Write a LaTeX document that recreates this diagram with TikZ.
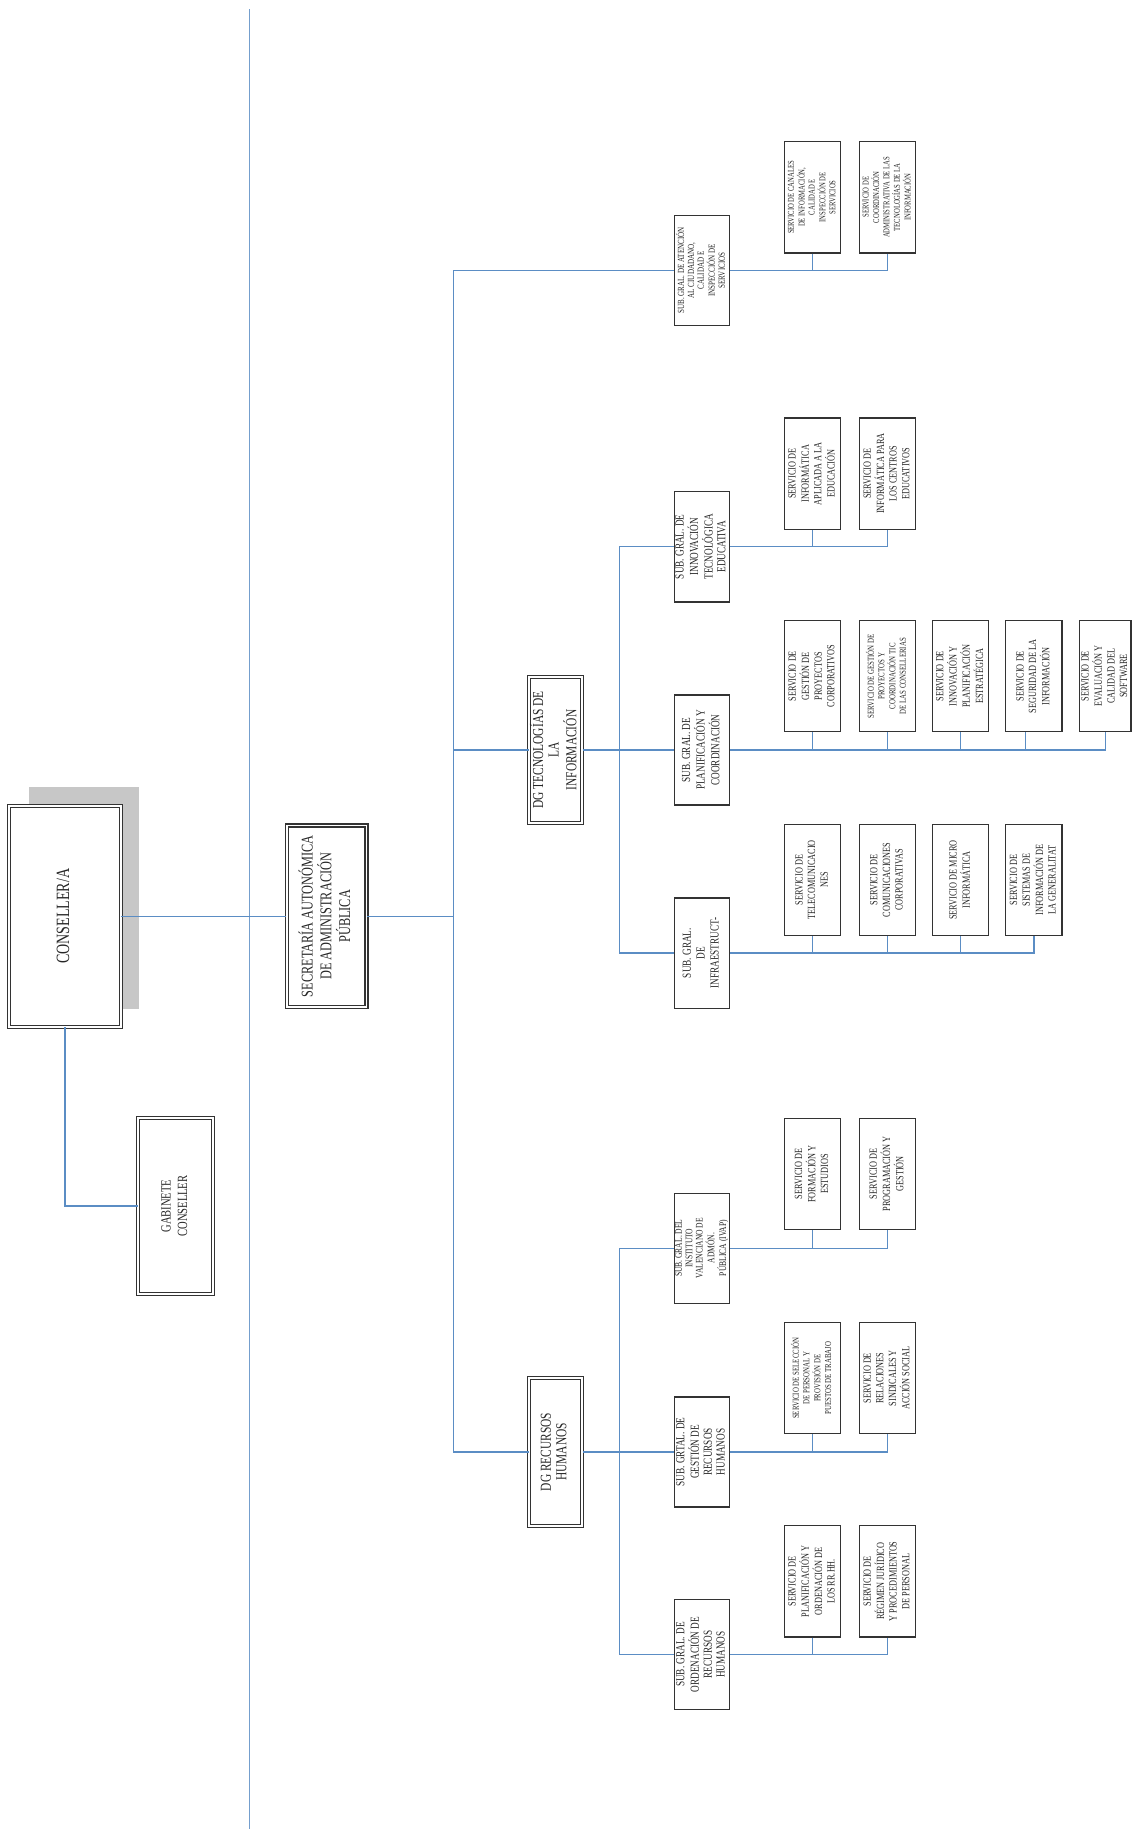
\documentclass[tikz,border=0pt]{standalone}
\usepackage{fontspec}
\setmainfont{Liberation Serif}[FakeStretch=0.75]
\usepackage{graphicx}
\definecolor{ln}{RGB}{91,141,196}
\newcommand{\vt}[1]{\rotatebox{90}{\begin{tabular}{@{}c@{}}#1\end{tabular}}}
\tikzset{
 dbox/.style={draw=black!80, double=white, double distance=1.6pt, line width=0.95pt, fill=white, inner sep=0pt, text=black!85},
 sbox/.style={draw=black!80, line width=1.1pt, fill=white, inner sep=0pt, text=black!85},
 svc/.style={sbox, minimum width=48, minimum height=95, font=\fontsize{9.4}{10.8}\selectfont},
 svctiny/.style={svc, font=\fontsize{7.6}{8.6}\selectfont},
 sgs/.style={sbox, minimum width=47, minimum height=94, font=\fontsize{10.5}{11}\selectfont},
 conn/.style={draw=ln, line width=1.1pt},
 mainln/.style={draw=ln!85, line width=1pt},
}
\begin{document}
\begin{tikzpicture}[x=1pt,y=-1pt]
\useasboundingbox[fill=white] (0,0) rectangle (966,1568);

% main vertical line
\coordinate (vtop) at (213,8);
\coordinate (vbot) at (213,1562);
\draw[mainln] (vtop) -- (vbot);

% top level
\node[fill=black!22, minimum width=94, minimum height=190, inner sep=0pt] (shadow) at (72,767) {};
\node[dbox, minimum width=95, minimum height=189, font=\fontsize{16}{18}\selectfont] (cons) at (55.5,782.5) {\vt{CONSELLER/A}};
\node[dbox, minimum width=64, minimum height=150, font=\fontsize{12}{14}\selectfont] (gab) at (150,1030) {\vt{GABINETE\\CONSELLER}};
\node[dbox, minimum width=68, minimum height=155, font=\fontsize{14}{13.5}\selectfont] (sec) at (279,782.5) {\vt{SECRETARÍA AUTONÓMICA\\DE ADMINISTRACIÓN\\PÚBLICA}};

% DGs
\node[dbox, minimum width=45, minimum height=125, font=\fontsize{13}{13.2}\selectfont] (dgti) at (474.5,640.5) {\vt{DG TECNOLOGÍAS DE\\LA\\INFORMACIÓN}};
\node[dbox, minimum width=45, minimum height=126, font=\fontsize{13}{13.2}\selectfont] (dgrh) at (474.5,1240) {\vt{DG RECURSOS\\HUMANOS}};

% sub generales
\node[sgs, font=\fontsize{8}{8.5}\selectfont] (sgat) at (599.5,231) {\vt{SUB. GRAL. DE ATENCIÓN\\AL CIUDADANO,\\CALIDAD E\\INSPECCIÓN DE\\SERVICIOS}};
\node[sgs] (sgin) at (599.5,467) {\vt{SUB. GRAL. DE\\INNOVACIÓN\\TECNOLÓGICA\\EDUCATIVA}};
\node[sgs, font=\fontsize{10.5}{11.8}\selectfont] (sgpl) at (599.5,640.5) {\vt{SUB. GRAL. DE\\PLANIFICACIÓN Y\\COORDINACIÓN}};
\node[sgs, font=\fontsize{10.5}{11.8}\selectfont] (sgif) at (599.5,814) {\vt{SUB. GRAL.\\DE\\INFRAESTRUCT-}};
\node[sgs, font=\fontsize{8.6}{8.8}\selectfont] (sgiv) at (599.5,1066) {\vt{SUB. GRAL. DEL\\INSTITUTO\\VALENCIANO DE\\ADMÓN.\\PÚBLICA (IVAP)}};
\node[sgs] (sgge) at (599.5,1240) {\vt{SUB. GRTAL. DE\\GESTIÓN DE\\RECURSOS\\HUMANOS}};
\node[sgs] (sgor) at (599.5,1413) {\vt{SUB. GRAL. DE\\ORDENACIÓN DE\\RECURSOS\\HUMANOS}};

% servicios
\node[svctiny] (at1) at (694,168.5) {\vt{SERVICIO DE CANALES\\DE INFORMACIÓN,\\CALIDAD E\\INSPECCIÓN DE\\SERVICIOS}};
\node[svctiny] (at2) at (758,168.5) {\vt{SERVICIO DE\\COORDINACIÓN\\ADMINISTRATIVA DE LAS\\TECNOLOGÍAS DE LA\\INFORMACIÓN}};

\node[svc] (in1) at (694,404.5) {\vt{SERVICIO DE\\INFORMÁTICA\\APLICADA A LA\\EDUCACIÓN}};
\node[svc] (in2) at (758,404.5) {\vt{SERVICIO DE\\INFORMÁTICA PARA\\LOS CENTROS\\EDUCATIVOS}};

\node[svc] (pl1) at (694,577.5) {\vt{SERVICIO DE\\GESTIÓN DE\\PROYECTOS\\CORPORATIVOS}};
\node[svc, font=\fontsize{7.8}{9}\selectfont] (pl2) at (758,577.5) {\vt{SERVICIO DE GESTIÓN DE\\PROYECTOS Y\\COORDINACIÓN TIC\\DE LAS CONSELLERIAS}};
\node[svc] (pl3) at (820.5,577.5) {\vt{SERVICIO DE\\INNOVACIÓN Y\\PLANIFICACIÓN\\ESTRATÉGICA}};
\node[svc] (pl4) at (883,577.5) {\vt{SERVICIO DE\\SEGURIDAD DE LA\\INFORMACIÓN}};
\node[svc, minimum width=43] (pl5) at (944,577.5) {\vt{SERVICIO DE\\EVALUACIÓN Y\\CALIDAD DEL\\SOFTWARE}};

\node[svc] (if1) at (694,751.5) {\vt{SERVICIO DE\\TELECOMUNICACIO\\NES}};
\node[svc] (if2) at (758,751.5) {\vt{SERVICIO DE\\COMUNICACIONES\\CORPORATIVAS}};
\node[svc] (if3) at (820.5,751.5) {\vt{SERVICIO DE MICRO\\INFORMÁTICA}};
\node[svc] (if4) at (883,751.5) {\vt{SERVICIO DE\\SISTEMAS DE\\INFORMACIÓN DE\\LA GENERALITAT}};

\node[svc] (iv1) at (694,1002.5) {\vt{SERVICIO DE\\FORMACIÓN Y\\ESTUDIOS}};
\node[svc] (iv2) at (758,1002.5) {\vt{SERVICIO DE\\PROGRAMACIÓN Y\\GESTIÓN}};

\node[svc, font=\fontsize{7.8}{9}\selectfont] (ge1) at (694,1177) {\vt{SERVICIO DE SELECCIÓN\\DE PERSONAL Y\\PROVISIÓN DE\\PUESTOS DE TRABAJO}};
\node[svc] (ge2) at (758,1177) {\vt{SERVICIO DE\\RELACIONES\\SINDICALES Y\\ACCIÓN SOCIAL}};

\node[svc] (or1) at (694,1350.5) {\vt{SERVICIO DE\\PLANIFICACIÓN Y\\ORDENACIÓN DE\\LOS RR.HH.}};
\node[svc] (or2) at (758,1350.5) {\vt{SERVICIO DE\\RÉGIMEN JURÍDICO\\Y PROCEDIMIENTOS\\DE PERSONAL}};

% connectors
\coordinate (bus) at (387,0);
\coordinate (tbus) at (529,0);
\draw[conn] (cons.east) -- (sec.west);
\draw[conn] (cons.south) |- (gab.west);
\draw[conn] (sec.east) -- (sec.east -| bus);
\draw[conn] (sgat.west) -| (dgrh.west -| bus) -- (dgrh.west);
\draw[conn] (dgti.west -| bus) -- (dgti.west);
\draw[conn] (dgti.east) -- (sgpl.west);
\draw[conn] (sgin.west) -| (sgif.west -| tbus) -- (sgif.west);
\draw[conn] (dgrh.east) -- (sgge.west);
\draw[conn] (sgiv.west) -| (sgor.west -| tbus) -- (sgor.west);

\draw[conn] (sgat.east) -| (at2.south);
\draw[conn] (at1.south) -- (at1.south |- sgat.east);
\draw[conn] (sgin.east) -| (in2.south);
\draw[conn] (in1.south) -- (in1.south |- sgin.east);
\draw[conn] (sgpl.east) -| (pl5.south);
\draw[conn] (pl1.south) -- (pl1.south |- sgpl.east);
\draw[conn] (pl2.south) -- (pl2.south |- sgpl.east);
\draw[conn] (pl3.south) -- (pl3.south |- sgpl.east);
\draw[conn] ([xshift=-7pt]pl4.south) -- ([xshift=-7pt]pl4.south |- sgpl.east);
\draw[conn] (sgif.east) -| (if4.south);
\draw[conn] (if1.south) -- (if1.south |- sgif.east);
\draw[conn] (if2.south) -- (if2.south |- sgif.east);
\draw[conn] (if3.south) -- (if3.south |- sgif.east);
\draw[conn] (sgiv.east) -| (iv2.south);
\draw[conn] (iv1.south) -- (iv1.south |- sgiv.east);
\draw[conn] (sgge.east) -| (ge2.south);
\draw[conn] (ge1.south) -- (ge1.south |- sgge.east);
\draw[conn] (sgor.east) -| (or2.south);
\draw[conn] (or1.south) -- (or1.south |- sgor.east);
\end{tikzpicture}
\end{document}
